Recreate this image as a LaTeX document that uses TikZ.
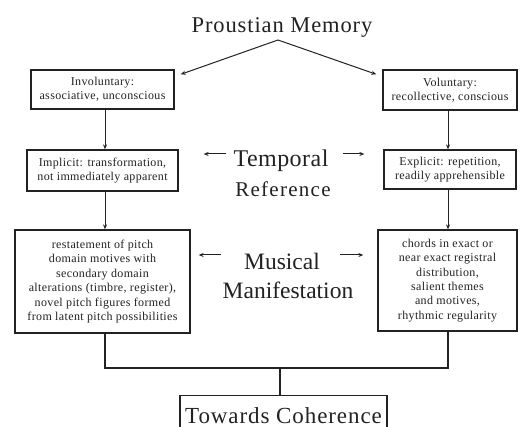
\documentclass[tikz,border=0pt]{standalone}
\usepackage{fontspec}
\setmainfont{Liberation Serif}
\usetikzlibrary{arrows.meta}
\definecolor{ink}{HTML}{222222}
\newcommand{\tfont}[2]{\fontsize{#1}{#1}\selectfont\addfontfeatures{LetterSpace=#2}}
\tikzset{
  box/.style={draw=ink, line width=1.3pt, rectangle, inner sep=1pt, align=center, text=ink,
    font=\fontsize{12}{14.4}\selectfont\addfontfeatures{LetterSpace=3}},
  big/.style={text=ink, inner sep=0pt},
  arr/.style={draw=ink, line width=1pt, -{Stealth[length=5pt,width=4pt]}},
  ln/.style={draw=ink, line width=1.2pt},
}
\begin{document}
\begin{tikzpicture}[x=1pt,y=-1pt]
\useasboundingbox (0,0) rectangle (520,427);
\clip (0,0) rectangle (520,427);
\fill[white] (0,0) rectangle (520,427);

\node[big, font=\tfont{22.5}{4}] (title) at (282,27) {Proustian Memory};
\coordinate (apex) at (278,40);

\node[box, minimum width=143pt, minimum height=39pt] (inv) at (102.5,89.5) {Involuntary:\\associative, unconscious};
\node[box, minimum width=134pt, minimum height=40pt] (vol) at (450,90) {Voluntary:\\recollective, conscious};

\node[box, minimum width=151pt, minimum height=41pt] (impl) at (102.5,170.5) {Implicit: transformation,\\not immediately apparent};
\node[box, minimum width=132pt, minimum height=39pt] (expl) at (450,169.5) {Explicit: repetition,\\readily apprehensible};

\node[box, minimum width=175pt, minimum height=103pt] (lft) at (102.5,281.5) {restatement of pitch\\domain motives with\\secondary domain\\alterations (timbre, register),\\novel pitch figures formed\\from latent pitch possibilities};
\node[box, minimum width=139pt, minimum height=101pt] (rgt) at (447.5,280.5) {chords in exact or\\near exact registral\\distribution,\\salient themes\\and motives,\\rhythmic regularity};

\node[big, font=\tfont{24}{2}] (temp) at (281,161) {Temporal};
\node[big, font=\tfont{21}{6}] (refn) at (283,189) {Reference};
\node[big, font=\tfont{23.5}{0}] (mus) at (282,261) {Musical};
\node[big, font=\tfont{23.5}{0}] (man) at (288,290) {Manifestation};

\node[box, font=\tfont{23}{4}, minimum width=207pt, minimum height=40pt, anchor=north] (coh) at (283.5,395) {Towards Coherence};

% top arrows
\draw[arr] (apex) -- ([xshift=6pt,yshift=-5pt]inv.north east);
\draw[arr] (apex) -- ([xshift=-6pt,yshift=-5pt]vol.north west);

% vertical arrows
\draw[arr] ([xshift=2.5pt]inv.south) -- ([xshift=2.5pt]impl.north);
\draw[arr] ([xshift=-2pt]vol.south) -- ([xshift=-2pt]expl.north);
\draw[arr] ([xshift=2.5pt]impl.south) -- ([xshift=2.5pt]lft.north);
\draw[arr] ([xshift=-2pt]expl.south) -- ([xshift=0.5pt]rgt.north);

% side arrows
\draw[arr, shorten <=7pt, shorten >=25pt] ([yshift=7pt]temp.west) -- ([yshift=7pt]impl.east |- temp.west);
\draw[arr, shorten <=14pt, shorten >=19pt] ([yshift=7pt]temp.east) -- ([yshift=7pt]expl.west |- temp.east);
\draw[arr, shorten <=23pt, shorten >=8pt] ([yshift=6pt]mus.west) -- ([yshift=6pt]lft.east |- mus.west);
\draw[arr, shorten <=20pt, shorten >=14pt] ([yshift=6pt]mus.east) -- ([yshift=6pt]rgt.west |- mus.east);

% joining lines
\coordinate (jn) at (280,368);
\draw[ln] ([xshift=2.5pt]lft.south) |- (jn) -| ([xshift=0.5pt]rgt.south);
\draw[ln] (jn) -- (jn |- coh.north);
\end{tikzpicture}
\end{document}
